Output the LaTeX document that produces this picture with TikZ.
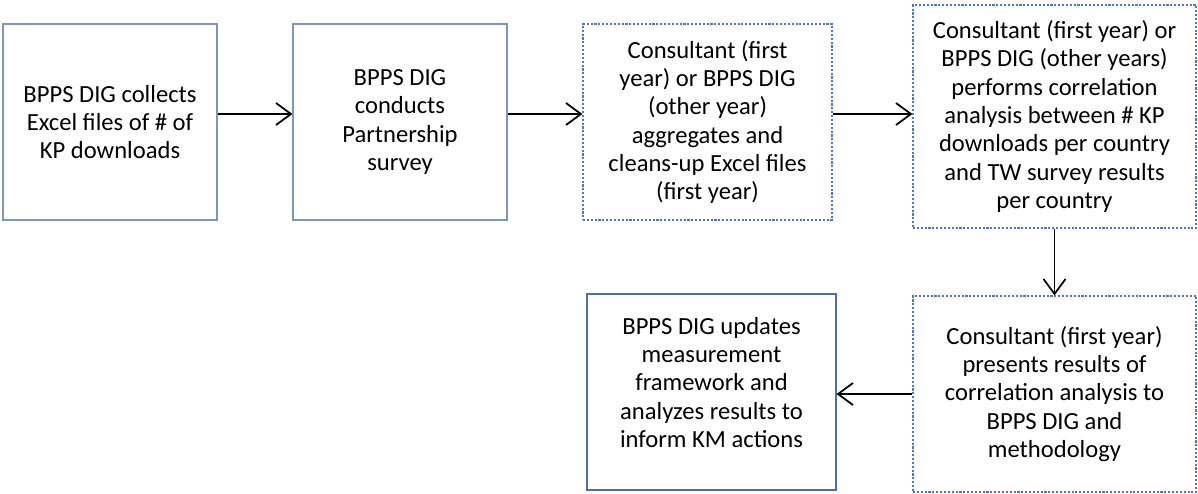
\documentclass[tikz,border=0pt]{standalone}
\usepackage{fontspec}
\setmainfont{Carlito}
\usepackage{tikz}
\usetikzlibrary{positioning,arrows.meta}
\definecolor{boxline}{RGB}{128,150,185}
\definecolor{boxdark}{RGB}{79,110,160}
\definecolor{dotline}{RGB}{79,120,180}

\begin{document}
\begin{tikzpicture}[
    solidbox/.style={draw=boxline, line width=0.6pt, align=center, inner sep=0pt,
        minimum height=3.92cm, font=\fontsize{14}{16.1}\selectfont},
    dotbox/.style={solidbox, draw=dotline, dash pattern=on 1.2pt off 1pt},
    flow/.style={line width=1pt, -{Straight Barb[length=3mm,width=4.4mm]}}
]
    \useasboundingbox (0, 0) rectangle (23.96, -9.86);

    % top row
    \node [solidbox, minimum width=4.28cm] (collect) at (2.2, -2.44)
        {BPPS DIG collects\\Excel files of \# of\\KP downloads};
    \node [solidbox, minimum width=4.28cm] (survey) at (8.0, -2.44)
        {BPPS DIG\\conducts\\Partnership\\survey};
    \node [dotbox, minimum width=4.98cm] (aggregate) at (14.15, -2.44)
        {Consultant (first\\year) or BPPS DIG\\(other year)\\aggregates and\\cleans-up Excel files\\(first year)};
    \node [dotbox, minimum width=5.66cm, minimum height=4.46cm] (analysis) at (21.09, -2.33)
        {Consultant (first year) or\\BPPS DIG (other years)\\performs correlation\\analysis between \# KP\\downloads per country\\and TW survey results\\per country};

    % bottom row
    \node [dotbox, minimum width=5.66cm] (present) at (21.09, -7.88)
        {Consultant (first year)\\presents results of\\correlation analysis to\\BPPS DIG and\\methodology};
    \node [solidbox, draw=boxdark, minimum width=4.98cm] (update) at (14.23, -7.84)
        {BPPS DIG updates\\measurement\\framework and\\analyzes results to\\inform KM actions\\[-5pt]\mbox{}};

    \draw [flow] ([yshift=1.6mm]collect.east) -- ([yshift=1.6mm]survey.west);
    \draw [flow] ([yshift=1.6mm]survey.east) -- ([yshift=1.6mm]aggregate.west);
    \draw [flow] ([yshift=1.6mm]aggregate.east) -- ([yshift=1.6mm]aggregate.east -| analysis.west);
    \draw [flow] (analysis.south) -- (present.north);
    \draw [flow] (present.west) -- (present.west -| update.east);
\end{tikzpicture}
\end{document}
